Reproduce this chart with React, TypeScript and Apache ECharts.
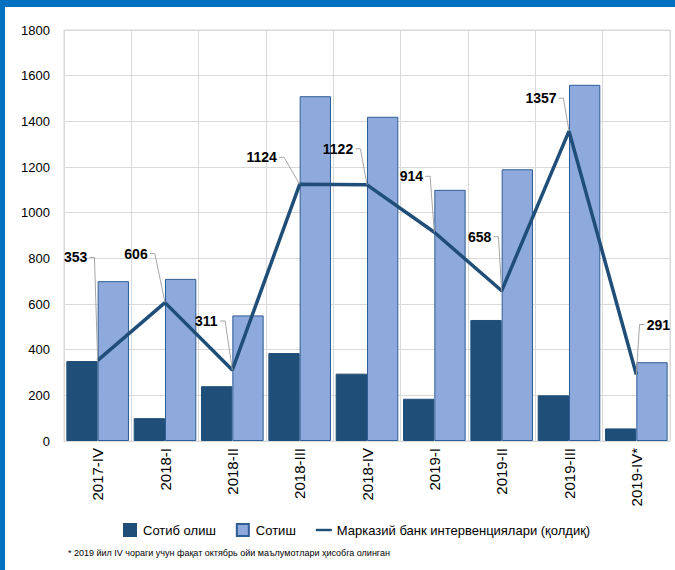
import React, { useEffect, useRef } from "react";
import * as echarts from "echarts";

const categories = ["2017-IV", "2018-I", "2018-II", "2018-III", "2018-IV", "2019-I", "2019-II", "2019-III", "2019-IV*"];
const buyValues = [350, 100, 240, 385, 295, 185, 530, 200, 55];
const sellValues = [700, 710, 550, 1510, 1420, 1100, 1190, 1560, 345];
const netValues = [353, 606, 311, 1124, 1122, 914, 658, 1357, 291];
const yTicks = { min: 0, max: 1800, interval: 200 };
const seriesNames = ["Сотиб олиш", "Сотиш", "Марказий банк интервенциялари (қолдиқ)"];
const footnote = "* 2019 йил IV чораги учун фақат октябрь ойи маълумотлари ҳисобга олинган";

// label offsets (styling): label centre relative to the point
const labelOffsets: [number, number][] = [
  [-22, -103], [-29, -49], [-26, -49], [-38, -27], [-29, -36], [-23, -56], [-22, -54], [-28, -33], [22, -50],
];

const FONT = "'Liberation Sans', Arial, sans-serif";

export default function App() {
  const ref = useRef<HTMLDivElement>(null);
  useEffect(() => {
    if (!ref.current) return;
    const chart = echarts.init(ref.current, undefined, { renderer: "svg" });
    const option: any = {
      animation: false,
      backgroundColor: "#ffffff",
      grid: { left: 64, right: 5, top: 30, bottom: 129, show: true, borderColor: "#d9d9d9", borderWidth: 1 },
      legend: {
        left: 118,
        top: 518,
        itemWidth: 16,
        itemHeight: 12,
        itemGap: 20,
        textStyle: { fontSize: 13, fontFamily: FONT, color: "#000" },
        data: [
          { name: seriesNames[0], icon: "path://M0,0h12v12h-12z" },
          { name: seriesNames[1], icon: "path://M0,0h12v12h-12z" },
          { name: seriesNames[2], icon: "path://M0,0h20v3h-20z" },
        ],
      },
      xAxis: {
        type: "category",
        data: categories,
        axisTick: { show: false },
        axisLine: { show: true, lineStyle: { color: "#d9d9d9" } },
        splitLine: { show: true, lineStyle: { color: "#d9d9d9" } },
        axisLabel: { rotate: 90, fontSize: 15, fontFamily: FONT, color: "#000", margin: 7, interval: 0 },
      },
      yAxis: {
        type: "value",
        min: yTicks.min,
        max: yTicks.max,
        interval: yTicks.interval,
        axisLine: { show: false },
        axisTick: { show: false },
        splitLine: { show: true, lineStyle: { color: "#d9d9d9" } },
        axisLabel: {
          fontSize: 13,
          fontFamily: FONT,
          color: "#000",
          margin: 14,
          formatter: (v: number) => String(v),
        },
      },
      graphic: [
        { type: "rect", left: 0, top: 0, shape: { width: 675, height: 7 }, style: { fill: "#0070c0" }, silent: true },
        { type: "rect", left: 0, top: 0, shape: { width: 5, height: 570 }, style: { fill: "#0070c0" }, silent: true },
        {
          type: "text",
          left: 68,
          top: 548,
          style: { text: footnote, font: `9px ${FONT}`, fill: "#000" },
        },
      ],
      series: [
        {
          name: seriesNames[0],
          type: "bar",
          data: buyValues,
          barGap: "0%",
          barCategoryGap: "7%",
          itemStyle: { color: "#1f4e79", borderColor: "#1f4e79", borderWidth: 1 },
          z: 2,
        },
        {
          name: seriesNames[1],
          type: "bar",
          data: sellValues,
          barGap: "0%",
          barCategoryGap: "7%",
          itemStyle: { color: "#8eaadc", borderColor: "#2f5d95", borderWidth: 1 },
          z: 2,
        },
        {
          name: seriesNames[2],
          type: "line",
          data: netValues,
          symbol: "none",
          lineStyle: { color: "#1f4e79", width: 3.5 },
          itemStyle: { color: "#1f4e79" },
          z: 5,
        },
        {
          type: "custom",
          name: "labels",
          z: 6,
          data: netValues.map((v, i) => [i, v]),
          renderItem: (params: any, api: any) => {
            const i = params.dataIndex;
            const p = api.coord([api.value(0), api.value(1)]);
            const [dx, dy] = labelOffsets[i];
            const text = String(netValues[i]);
            const halfW = (text.length * 7.2) / 2;
            const cx = p[0] + dx;
            const cy = p[1] + dy;
            const side = dx < 0 ? 1 : -1;
            const x1 = cx + side * (halfW + 3);
            const x2 = cx + side * (halfW + 8);
            return {
              type: "group",
              children: [
                {
                  type: "polyline",
                  shape: { points: [[x1, cy], [x2, cy], [p[0], p[1]]] },
                  style: { stroke: "#a6a6a6", lineWidth: 1, fill: null },
                },
                {
                  type: "text",
                  x: cx,
                  y: cy,
                  style: {
                    text,
                    font: `bold 14px ${FONT}`,
                    fill: "#000",
                    align: "center",
                    verticalAlign: "middle",
                  },
                },
              ],
            };
          },
        },
      ],
    };
    chart.setOption(option);
    return () => chart.dispose();
  }, []);
  return <div ref={ref} style={{ width: 675, height: 570, position: "absolute", left: 0, top: 0 }} />;
}
